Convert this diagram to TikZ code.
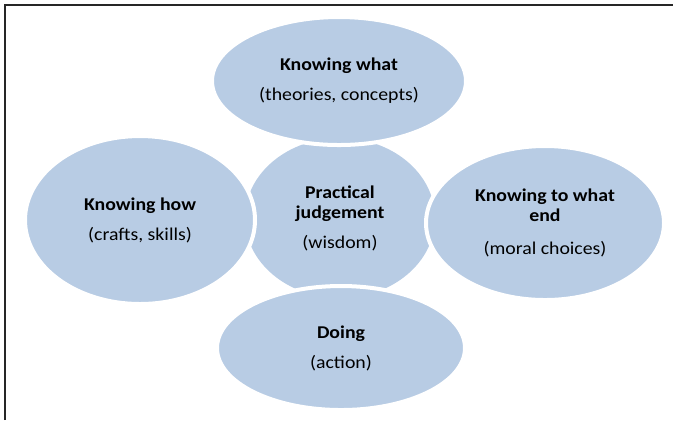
\documentclass[tikz,border=0pt]{standalone}
\usepackage{fontspec}
\setmainfont{Carlito}[FakeStretch=1.1]
\usetikzlibrary{shapes.geometric}
\definecolor{bubblefill}{HTML}{B8CCE4}
\tikzset{font=\fontsize{9}{10}\selectfont,
  hub/.style={ellipse,fill=bubblefill,inner sep=0pt,align=center},
  bubble/.style={hub,draw=white,line width=2pt}}

\begin{document}
\begin{tikzpicture}[x=0.5pt,y=-0.5pt]
\useasboundingbox (0,0) rectangle (673,420);
\draw[line width=1pt,black!85] (5,420) -- (5,5) -- (673,5);
\node[hub,minimum width=95pt,minimum height=80pt] (judge) at (340,218) {\textbf{Practical}\\\textbf{judgement}\\[5pt](wisdom)};
\node[bubble,minimum width=127pt,minimum height=64pt] (what) at (339,81) {\textbf{Knowing what}\\[5pt](theories, concepts)};
\node[bubble,minimum width=124pt,minimum height=62pt] (doing) at (341,348) {\textbf{Doing}\\[5pt](action)};
\node[bubble,minimum width=115pt,minimum height=84pt] (how) at (140,220) {\textbf{Knowing how}\\[5pt](crafts, skills)};
\node[bubble,minimum width=119pt,minimum height=77pt] (end) at (545,223) {\textbf{Knowing to what}\\\textbf{end}\\[6.5pt](moral choices)};
\end{tikzpicture}
\end{document}
